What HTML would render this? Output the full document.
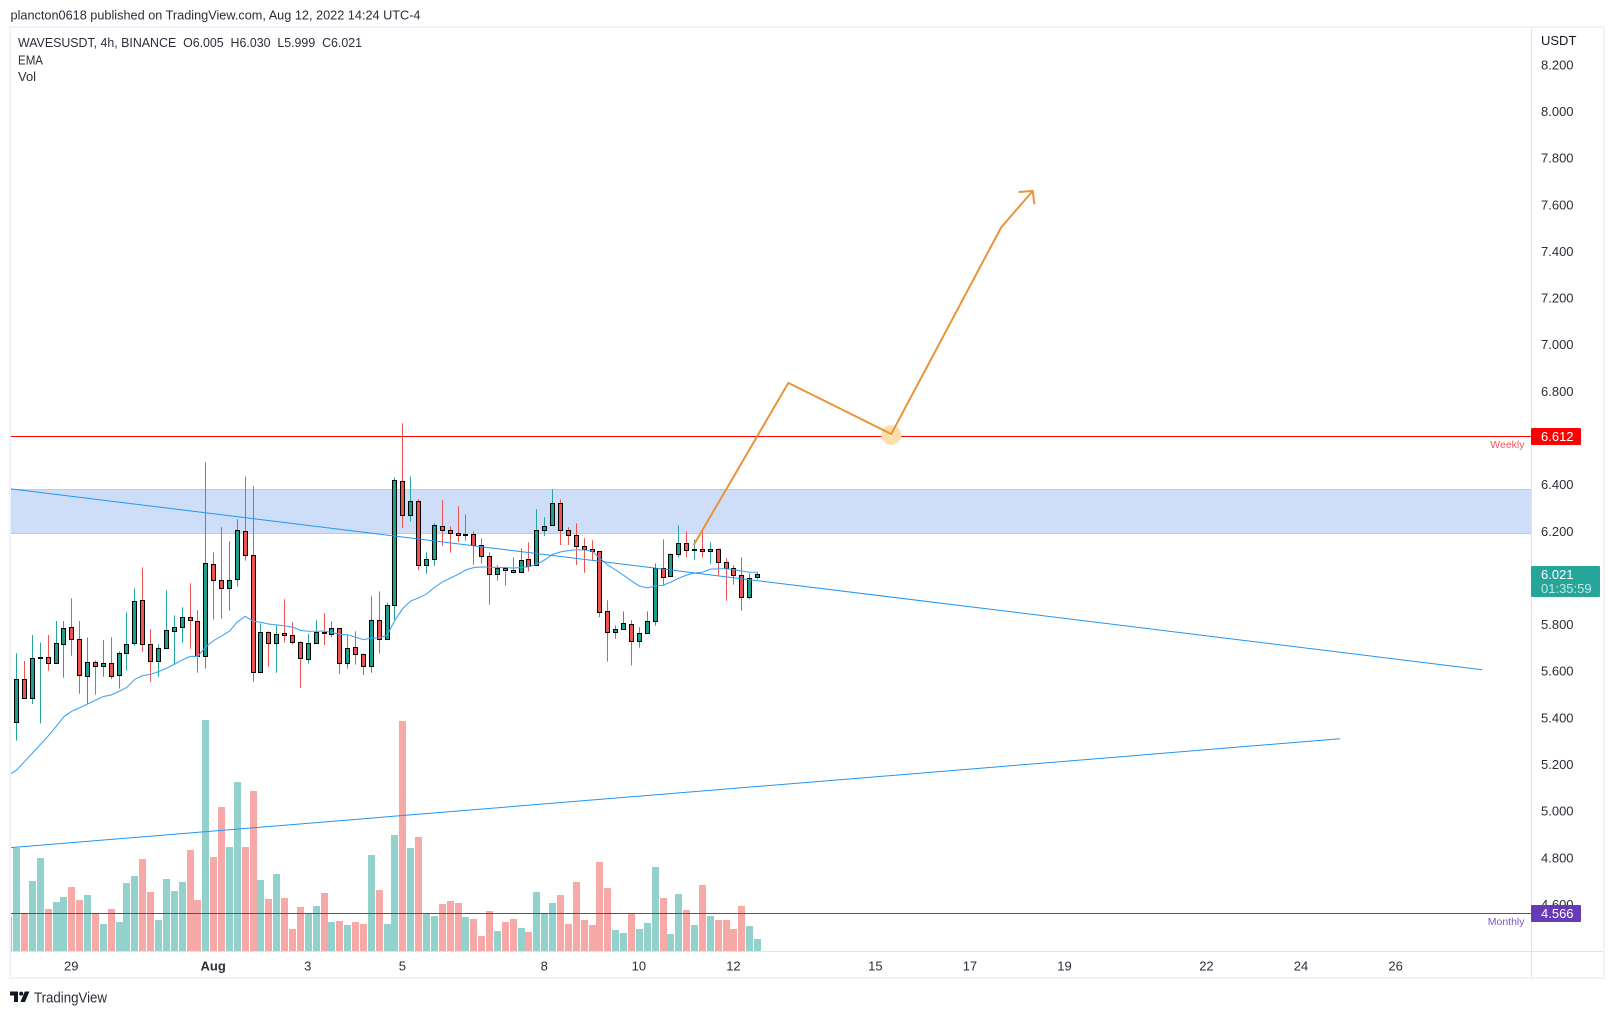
<!DOCTYPE html>
<html lang="en">
<head>
<meta charset="utf-8">
<title>WAVESUSDT 4h chart</title>
<style>
html,body{margin:0;padding:0;background:#fff;width:1615px;height:1014px;overflow:hidden}
svg{display:block;font-family:"Liberation Sans",Arial,sans-serif}
</style>
</head>
<body>
<svg id="chart" xmlns="http://www.w3.org/2000/svg" width="1615" height="1014" viewBox="0 0 1615 1014">
  <defs><clipPath id="plot-clip"><rect x="11" y="28" width="1520" height="923"/></clipPath></defs>
  <text x="10.5" y="19.5" font-size="13" fill="#2a2e39" textLength="410" lengthAdjust="spacingAndGlyphs">plancton0618 published on TradingView.com, Aug 12, 2022 14:24 UTC-4</text>
  <g id="plot" clip-path="url(#plot-clip)"></g>
  <line x1="10.5" x2="10.5" y1="722" y2="743" stroke="#888"/>
  <line x1="11" x2="1603" y1="951.5" y2="951.5" stroke="#e0e3eb"/>
  <line x1="1531.5" x2="1531.5" y1="27" y2="978" stroke="#e0e3eb"/>
  <rect x="10" y="27" width="1594" height="951" fill="none" stroke="#f0f3fa" stroke-width="2"/>
  <g id="axes"></g>
  <text x="1541" y="45" font-size="13" fill="#131722">USDT</text>
  <text x="18" y="47" font-size="13" fill="#2a2e39" textLength="344" lengthAdjust="spacingAndGlyphs" xml:space="preserve">WAVESUSDT, 4h, BINANCE  O6.005  H6.030  L5.999  C6.021</text>
  <text x="18" y="64.5" font-size="13" fill="#2a2e39" textLength="25" lengthAdjust="spacingAndGlyphs">EMA</text>
  <text x="18" y="81" font-size="13" fill="#2a2e39">Vol</text>
  <g>
    <text x="1524.5" y="448" font-size="10.5" fill="#f7525f" text-anchor="end">Weekly</text>
    <rect x="1531" y="428" width="50" height="17" rx="1" fill="#ff0000"/>
    <text x="1541" y="441" font-size="13" fill="#fff">6.612</text>
  </g>
  <g>
    <text x="1524.5" y="925" font-size="10.5" fill="#7e57c2" text-anchor="end">Monthly</text>
    <rect x="1531" y="905" width="50" height="17" rx="1" fill="#673ab7"/>
    <text x="1541" y="918" font-size="13" fill="#fff">4.566</text>
  </g>
  <g>
    <rect x="1531" y="566" width="69" height="31" rx="1" fill="#26a69a"/>
    <text x="1541" y="579" font-size="13" fill="#fff">6.021</text>
    <text x="1541" y="593" font-size="13" fill="#c3e8e4">01:35:59</text>
  </g>
  <g>
    <path d="M10 991.5h8v10.5h-4v-6.5h-4z" fill="#131722"/>
    <circle cx="21.2" cy="993.6" r="2" fill="#131722"/>
    <path d="M24.8 991.5h4.6l-4.4 10.5h-4.6z" fill="#131722"/>
    <text x="34" y="1002.5" font-size="14.5" fill="#2a2e39" textLength="73" lengthAdjust="spacingAndGlyphs">TradingView</text>
  </g>
</svg>
<script>
// First entry is the partially clipped candle at the left edge.
const opens = [5.30,5.385,5.570,5.488,5.658,5.664,5.638,5.720,5.793,5.741,5.583,5.643,5.626,5.638,5.587,5.681,5.724,5.909,5.720,5.647,5.703,5.776,5.793,5.836,5.819,5.668,6.063,5.994,5.960,5.999,6.205,6.102,5.600,5.771,5.724,5.767,5.759,5.728,5.656,5.724,5.771,5.763,5.789,5.638,5.707,5.677,5.626,5.823,5.741,5.887,6.419,6.273,6.333,6.059,6.084,6.226,6.209,6.196,6.190,6.192,6.144,6.097,6.020,6.046,6.037,6.029,6.085,6.059,6.209,6.230,6.325,6.209,6.187,6.140,6.127,6.119,5.861,5.771,5.784,5.806,5.733,5.767,5.819,6.046,6.012,6.106,6.153,6.123,6.127,6.119,6.127,6.072,6.046,6.016,5.922,6.005];
const highs = [5.40,5.681,5.648,5.760,5.728,5.760,5.820,5.820,5.917,5.820,5.750,5.651,5.738,5.750,5.690,5.857,5.960,6.050,5.784,5.720,5.952,5.844,5.879,5.982,5.866,6.500,6.114,6.222,6.162,6.256,6.440,6.398,5.810,5.776,5.801,5.913,5.814,5.733,5.763,5.823,5.853,5.819,5.789,5.763,5.776,5.681,5.926,5.947,5.900,6.436,6.668,6.440,6.342,6.114,6.239,6.337,6.226,6.312,6.277,6.205,6.174,6.114,6.059,6.053,6.093,6.132,6.157,6.299,6.265,6.385,6.342,6.222,6.239,6.175,6.166,6.119,5.909,5.801,5.861,5.823,5.793,5.861,6.067,6.170,6.110,6.230,6.205,6.170,6.205,6.157,6.132,6.089,6.059,6.093,6.024,6.030];
const lows = [5.28,5.307,5.488,5.464,5.381,5.607,5.638,5.577,5.671,5.508,5.464,5.504,5.581,5.570,5.530,5.607,5.714,5.688,5.560,5.581,5.703,5.634,5.727,5.701,5.598,5.616,5.826,5.829,5.864,5.967,6.079,5.560,5.596,5.624,5.598,5.728,5.720,5.533,5.637,5.724,5.717,5.750,5.593,5.616,5.633,5.588,5.598,5.680,5.741,5.824,6.219,6.246,6.040,6.023,6.057,6.143,6.113,6.159,6.164,6.062,6.066,5.890,5.993,5.972,6.024,6.024,6.032,6.059,6.185,6.230,6.146,6.146,6.060,6.027,6.079,5.836,5.646,5.744,5.784,5.629,5.706,5.767,5.800,5.976,6.011,6.092,6.093,6.083,6.092,6.066,6.016,5.907,5.976,5.864,5.913,5.999];
const closes = [5.38,5.570,5.488,5.660,5.664,5.638,5.724,5.787,5.741,5.587,5.643,5.626,5.638,5.583,5.681,5.720,5.904,5.720,5.647,5.703,5.780,5.793,5.836,5.823,5.668,6.067,5.994,5.960,5.994,6.209,6.102,5.600,5.771,5.724,5.763,5.759,5.728,5.660,5.724,5.771,5.767,5.789,5.638,5.703,5.677,5.626,5.823,5.741,5.887,6.423,6.273,6.333,6.059,6.084,6.230,6.209,6.196,6.187,6.192,6.144,6.097,6.020,6.046,6.037,6.029,6.080,6.054,6.209,6.226,6.325,6.209,6.187,6.140,6.127,6.119,5.857,5.771,5.784,5.810,5.733,5.767,5.819,6.046,6.007,6.106,6.153,6.123,6.127,6.119,6.127,6.072,6.046,6.016,5.922,6.003,6.021];
const emaValues = [5.160,5.181,5.217,5.253,5.290,5.327,5.367,5.410,5.433,5.448,5.464,5.480,5.496,5.503,5.518,5.536,5.570,5.586,5.591,5.603,5.617,5.634,5.653,5.668,5.668,5.710,5.736,5.756,5.776,5.816,5.840,5.819,5.814,5.807,5.803,5.799,5.794,5.780,5.776,5.776,5.777,5.771,5.763,5.761,5.751,5.740,5.747,5.747,5.759,5.824,5.874,5.906,5.919,5.936,5.964,5.987,6.004,6.020,6.039,6.049,6.052,6.050,6.049,6.049,6.047,6.049,6.053,6.064,6.082,6.106,6.116,6.122,6.125,6.125,6.119,6.089,6.060,6.039,6.016,5.992,5.970,5.962,5.970,5.973,5.987,6.004,6.017,6.026,6.029,6.042,6.044,6.044,6.040,6.034,6.029,6.029];
const volumes = [1030,3110,1140,2110,2800,1270,1480,1630,1930,1540,1690,1140,820,1270,880,2050,2260,2770,1780,940,2170,1810,2080,3040,1540,6940,2830,4330,3130,5080,3130,4810,2140,1570,2320,1600,670,1330,1140,1360,1750,880,910,790,880,820,2890,1840,820,3490,6910,3100,3430,1140,1060,1420,1510,1450,1030,970,460,1210,610,880,970,700,580,1780,1140,1450,1690,820,2080,940,790,2680,1900,640,550,1140,670,850,2530,1600,520,1720,1240,790,1990,1060,940,940,670,1360,760,360];
const priceTicks = [8.2,8.0,7.8,7.6,7.4,7.2,7.0,6.8,6.6,6.4,6.2,6.0,5.8,5.6,5.4,5.2,5.0,4.8,4.6];
const timeLabels = ["29","Aug","3","5","8","10","12","15","17","19","22","24","26"];
const timeBars = [7,25,37,49,67,79,91,109,121,133,151,163,175];
const descendingTrend = [[-0.8,6.387],[185.9,5.611]];
const ascendingTrend = [[-0.8,4.848],[167.9,5.315]];
const forecastPath = [[85.9,6.146],[97.9,6.841],[110.96,6.622],[124.9,7.508],[128.9,7.664]];
const zoneTop = 6.385;
const zoneBottom = 6.196;
const weeklyLevel = 6.612;
const monthlyLevel = 4.566;

const NS = 'http://www.w3.org/2000/svg';
const xAt = i => 16.6 + 7.883 * i;
const yAt = p => 436.3 + (weeklyLevel - p) * 233.2;
const volY = v => 951.3 - v / 30;
const crisp = y => Math.round(y - 0.5) + 0.5;

const plot = document.getElementById('plot');
const axes = document.getElementById('axes');

function make(tag, parent, attrs) {
  const el = document.createElementNS(NS, tag);
  for (const k in attrs) el.setAttribute(k, attrs[k]);
  parent.appendChild(el);
  return el;
}

// Volume bars
opens.forEach((o, n) => {
  const i = n - 1;
  const up = closes[n] >= o;
  const top = Math.round(volY(volumes[n]));
  const bar = make('rect', plot, {
    x: Math.floor(xAt(i)) - 3,
    y: top,
    width: 7,
    height: 951 - top,
    fill: up ? '#93d2cc' : '#f7a9a7'
  });
  
  
});

// Resistance zone
const zone = make('rect', plot, {
  x: 10.5,
  y: crisp(yAt(zoneTop)),
  width: 1521,
  height: crisp(yAt(zoneBottom)) - crisp(yAt(zoneTop)),
  fill: '#cfdef8',
  stroke: '#b2cdf4'
});



// Candles
opens.forEach((o, n) => {
  if (n === 0) return;
  const i = n - 1;
  const c = closes[n];
  const up = c >= o;
  const px = Math.floor(xAt(i)) + 0.5;
  const g = make('g', plot, {});
  
  
  make('line', g, {
    x1: px, x2: px,
    y1: yAt(highs[n]), y2: yAt(lows[n]),
    stroke: up ? '#26a69a' : '#ef5350'
  });
  const yt = crisp(yAt(Math.max(o, c)));
  const yb = crisp(yAt(Math.min(o, c)));
  make('rect', g, {
    x: px - 2, y: yt,
    width: 4, height: Math.max(1, yb - yt),
    fill: up ? '#1f9e8e' : '#ef5350',
    stroke: '#000', 'stroke-width': 1
  });
});

function linePath(points, getX, getY) {
  return points.map((p, k) => (k ? 'L' : 'M') + getX(p, k).toFixed(2) + ' ' + getY(p, k).toFixed(2)).join(' ');
}

// EMA
const emaLine = make('path', plot, {
  d: linePath(emaValues, (p, k) => xAt(k - 1), p => yAt(p)),
  fill: 'none', stroke: '#42a5f5', 'stroke-width': 1.1
});



// Level lines
const weeklyLine = make('line', plot, {
  x1: 10, x2: 1531, y1: crisp(yAt(weeklyLevel)), y2: crisp(yAt(weeklyLevel)), stroke: '#ff0000'
});


const monthlyLine = make('line', plot, {
  x1: 10, x2: 1531, y1: crisp(yAt(monthlyLevel)), y2: crisp(yAt(monthlyLevel)), stroke: '#673ab7'
});



// Trend lines
const descLine = make('path', plot, {
  d: linePath(descendingTrend, p => xAt(p[0]), p => yAt(p[1])),
  fill: 'none', stroke: '#2196f3', 'stroke-width': 1
});


const ascLine = make('path', plot, {
  d: linePath(ascendingTrend, p => xAt(p[0]), p => yAt(p[1])),
  fill: 'none', stroke: '#2196f3', 'stroke-width': 1
});



// Forecast path with marker and arrowhead
const marker = make('circle', plot, {
  cx: xAt(forecastPath[2][0]),
  cy: yAt(forecastPath[2][1]) + 1,
  r: 10, fill: '#fddfae'
});


const forecast = make('path', plot, {
  d: linePath(forecastPath, p => xAt(p[0]), p => yAt(p[1])),
  fill: 'none', stroke: '#e9933a', 'stroke-width': 2, 'stroke-linejoin': 'miter'
});


const tip = forecastPath[forecastPath.length - 1];
const tx = xAt(tip[0]);
const ty = yAt(tip[1]);
const arrowhead = make('path', plot, {
  d: 'M' + (tx - 14) + ' ' + (ty + 1) + ' L' + tx + ' ' + ty + ' L' + (tx + 1.7) + ' ' + (ty + 13.3),
  fill: 'none', stroke: '#e9933a', 'stroke-width': 2
});



// Price axis labels
priceTicks.forEach(p => {
  const t = make('text', axes, { x: 1541, y: yAt(p) + 3.4, 'font-size': 13, fill: '#2a2e39' });
  t.textContent = p.toFixed(3);
  
  
});

// Time axis labels
timeLabels.forEach((label, k) => {
  const t = make('text', axes, {
    x: xAt(timeBars[k]) - 0.5, y: 970.5, 'font-size': 13,
    'text-anchor': 'middle', fill: '#2a2e39',
    'font-weight': label === 'Aug' ? 'bold' : 'normal'
  });
  t.textContent = label;
  
  
});
</script>
</body>
</html>
